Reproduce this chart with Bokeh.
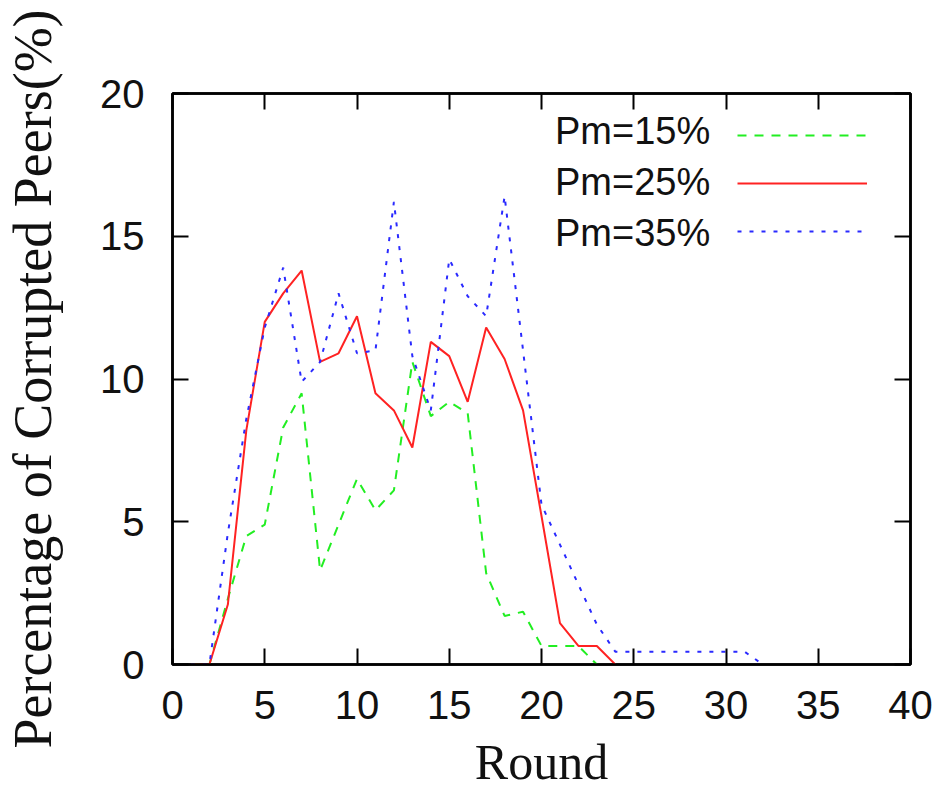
from bokeh.plotting import figure
from bokeh.models import Range1d, LinearAxis, Legend, LegendItem, FixedTicker
from bokeh.embed import file_html
from bokeh.resources import INLINE

# ---- data ----
rounds_15 = list(range(1, 24))
pm15 = [0, 0, 2.3, 4.5, 4.9, 8.3, 9.5, 3.3, 4.9, 6.5, 5.4, 6.1, 10.6, 8.7, 9.2,
        8.8, 3.2, 1.7, 1.85, 0.65, 0.65, 0.65, 0]
rounds_25 = list(range(1, 25))
pm25 = [0, 0, 2.1, 8.2, 12.0, 13.0, 13.8, 10.6, 10.9, 12.2, 9.5, 8.9, 7.6, 11.3,
        10.8, 9.2, 11.8, 10.7, 8.9, 5.2, 1.45, 0.65, 0.65, 0]
rounds_35 = list(range(1, 33))
pm35 = [0, 0, 4.6, 8.6, 11.8, 13.9, 9.9, 10.6, 13.0, 10.9, 11.0, 16.2, 10.8, 8.9,
        14.2, 12.9, 12.2, 16.4, 11.0, 5.6, 4.2, 2.8, 1.4, 0.45, 0.45, 0.45, 0.45,
        0.45, 0.45, 0.45, 0.45, 0]
series_labels = ["Pm=15%", "Pm=25%", "Pm=35%"]
x_ticks = [0, 5, 10, 15, 20, 25, 30, 35, 40]
y_ticks = [0, 5, 10, 15, 20]
x_title = "Round"
y_title = "Percentage of Corrupted Peers(%)"

SANS = "Liberation Sans"
SERIF = "Liberation Serif"

p = figure(width=936, height=792, output_backend="svg", toolbar_location=None,
           x_range=Range1d(0, 40), y_range=Range1d(0, 20),
           min_border_left=170, min_border_right=26, min_border_top=93,
           min_border_bottom=128)
p.xgrid.visible = False
p.ygrid.visible = False
p.outline_line_color = "black"
p.outline_line_width = 2.5
p.background_fill_color = "white"
p.border_fill_color = "white"

def style_axis(ax, ticks, labels=True, standoff=26):
    ax.ticker = FixedTicker(ticks=ticks)
    ax.axis_line_color = "black"
    ax.axis_line_width = 2.5
    ax.major_tick_in = 16
    ax.major_tick_out = 0
    ax.major_tick_line_width = 2
    ax.major_tick_line_color = "black"
    ax.minor_tick_line_color = None
    if labels:
        ax.major_label_text_font = SANS
        ax.major_label_text_font_size = "40px"
        ax.major_label_text_color = "#111111"
        ax.major_label_standoff = standoff
    else:
        ax.major_label_text_color = None
        ax.major_label_standoff = 0

style_axis(p.xaxis[0], x_ticks, standoff=26)
style_axis(p.yaxis[0], y_ticks, standoff=28)
p.xaxis.axis_label = x_title
p.yaxis.axis_label = y_title
for ax in (p.xaxis[0], p.yaxis[0]):
    ax.axis_label_text_font = SERIF
    ax.axis_label_text_font_style = "normal"
    ax.axis_label_text_color = "#111111"
p.xaxis.axis_label_text_font_size = "50px"
p.yaxis.axis_label_text_font_size = "54px"
p.xaxis.axis_label_standoff = 12
p.yaxis.axis_label_standoff = 34

top = LinearAxis()
style_axis(top, x_ticks, labels=False)
p.add_layout(top, "above")
right = LinearAxis()
style_axis(right, y_ticks, labels=False)
p.add_layout(right, "right")

r15 = p.line(rounds_15, pm15, line_color="#22ee22", line_width=2, line_dash="9 8")
r25 = p.line(rounds_25, pm25, line_color="#ff2222", line_width=2)
r35 = p.line(rounds_35, pm35, line_color="#2a2aff", line_width=2, line_dash="4 8")

# legend samples (to the right of the text, as in gnuplot)
leg_samples = Legend(items=[LegendItem(label=" ", renderers=[r]) for r in (r15, r25, r35)],
                     location=(565, 413), glyph_width=130, glyph_height=40,
                     label_height=40, label_width=0, label_standoff=0, spacing=8,
                     padding=0, margin=0, border_line_color=None,
                     background_fill_alpha=0, label_text_color=None)
# legend texts
dummies = [p.line([0], [0], line_alpha=0) for _ in series_labels]
leg_text = Legend(items=[LegendItem(label=t, renderers=[d]) for t, d in zip(series_labels, dummies)],
                  location=(382, 409), glyph_width=1, glyph_height=40,
                  label_height=40, label_standoff=0, spacing=8, padding=0, margin=0,
                  border_line_color=None, background_fill_alpha=0,
                  label_text_font=SANS, label_text_font_size="38px",
                  label_text_color="#111111")
p.add_layout(leg_samples)
p.add_layout(leg_text)

open("out.html", "w").write(file_html(p, INLINE))
